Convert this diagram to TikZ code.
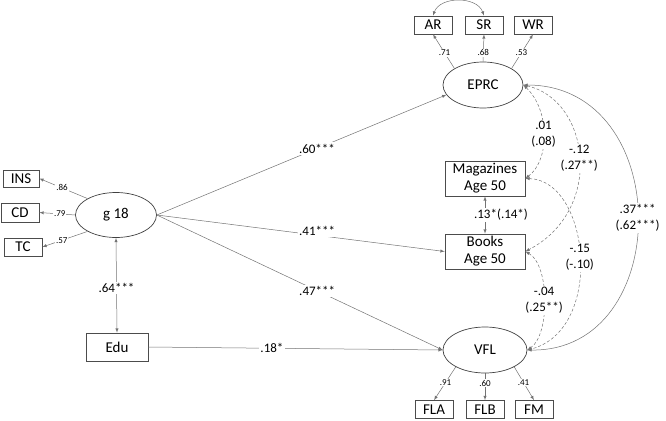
\documentclass[tikz,border=0pt]{standalone}
\usepackage{fontspec}
\setmainfont{Carlito}
\usepackage{tikz}
\usetikzlibrary{arrows,shapes}

\begin{document}
\begin{tikzpicture}[x=1pt,y=-1pt,>=latex,
    box/.style = {draw=black!70, line width=0.7pt, minimum width=38pt,
      minimum height=18pt, inner sep=1pt, font=\fontsize{15}{15}\selectfont},
    bigbox/.style = {box, minimum width=80pt, minimum height=35pt,
      align=center, font=\fontsize{15}{17}\selectfont},
    lat/.style = {draw=black!75, line width=0.7pt, ellipse, minimum width=80pt,
      minimum height=46pt, inner sep=0pt, font=\fontsize{15}{15}\selectfont},
    reg/.style = {->, draw=black!55, line width=0.5pt},
    cov/.style = {<->, draw=black!55, line width=0.5pt},
    dcov/.style = {cov, dash pattern=on 3pt off 2pt},
    ld/.style = {fill=white, inner sep=1pt, font=\fontsize{9}{9}\selectfont},
    est/.style = {fill=white, inner sep=1.5pt, align=center,
      font=\fontsize{13}{16}\selectfont}
  ]
  \useasboundingbox (0,0) rectangle (666,420);

  % latent variables
  \node[lat] (eprc) at (483,85) {EPRC};
  \node[lat, minimum width=81pt, minimum height=45pt] (g18) at (116,215) {g 18};
  \node[lat, minimum width=84pt] (vfl) at (485,350) {VFL};

  % indicators
  \node[box] (ar) at (433,25) {AR};
  \node[box] (sr) at (484,25) {SR};
  \node[box] (wr) at (533,25) {WR};
  \node[box, minimum width=36pt, minimum height=17pt] (ins) at (21,178.5) {INS};
  \node[box, minimum height=19pt] (cd) at (20,212.5) {CD};
  \node[box] (tc) at (23,247) {TC};
  \node[box] (fla) at (434,409.5) {FLA};
  \node[box] (flb) at (485,409.5) {FLB};
  \node[box] (fm) at (534,409.5) {FM};

  % observed
  \node[box, minimum width=62pt, minimum height=28pt] (edu) at (117,347) {Edu};
  \node[bigbox] (mag) at (485,178.5) {Magazines\\Age 50};
  \node[bigbox] (books) at (485,251.5) {Books\\Age 50};

  % loadings
  \draw[reg] (eprc.150) -- node[ld, pos=0.46] {.71} (ar.south);
  \draw[reg] (eprc.north) -- node[ld, pos=0.32] {.68} (sr.south);
  \draw[reg] (eprc.30) -- node[ld, pos=0.46] {.53} (wr.south);
  \draw[reg] (g18.150) -- node[ld, pos=0.53] {.86} (ins.east);
  \draw[reg] (g18.west) -- node[ld, pos=0.43] {.79} (cd.east);
  \draw[reg] (g18.210) -- node[ld, pos=0.57] {.57} (tc.east);
  \draw[reg] (vfl.-150) -- node[ld, pos=0.47] {.91} (fla.north);
  \draw[reg] (vfl.south) -- node[ld, pos=0.36] {.60} (flb.north);
  \draw[reg] (vfl.-30) -- node[ld, pos=0.47] {.41} (fm.north);
  \draw[cov] (ar.north) .. controls (440,-4) and (477,-4) .. (sr.north);

  % paths
  \draw[reg] (g18.east) -- node[est, pos=0.553] {.60***} (eprc.195);
  \draw[reg] (g18.east) -- node[est, pos=0.557, yshift=4pt] {.41***} (books.west);
  \draw[reg] (g18.east) -- node[est, pos=0.561] {.47***} (vfl.west);
  \draw[reg] (edu.east) -- node[est, pos=0.42] {.18*} (vfl.west);
  \draw[cov] (g18.south) -- node[est, pos=0.53] {.64***} (edu.north);
  \draw[cov] (mag.south) -- node[est, xshift=16pt] {.13*(.14*)} (books.north);

  % residual covariances
  \draw[dcov] (eprc.east) .. controls (550,110) and (550,160) ..
    node[est] {.01\\(.08)} (mag.east);
  \draw[dcov] (eprc.east) .. controls (590,100) and (605,210) ..
    node[est] {-.12\\(.27**)} (books.east);
  \draw[cov] (eprc.east) .. controls (675,85) and (675,352) ..
    node[est] {.37***\\(.62***)} (vfl.east);
  \draw[dcov] (mag.east) .. controls (590,180) and (605,330) ..
    node[est] {-.15\\(-.10)} (vfl.east);
  \draw[dcov] (books.east) .. controls (550,265) and (550,335) ..
    node[est] {-.04\\(.25**)} (vfl.east);

\end{tikzpicture}
\end{document}
